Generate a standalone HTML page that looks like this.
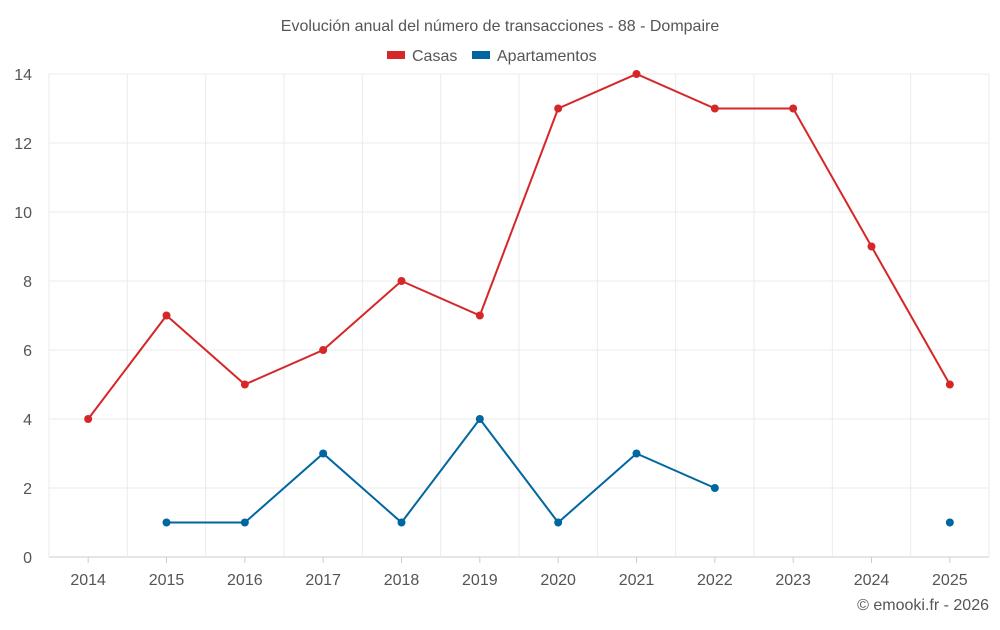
<!DOCTYPE html>
<html><head><meta charset="utf-8"><style>
body{margin:0;background:#fff;font-family:"Liberation Sans",sans-serif}
</style></head><body>
<svg id="c" width="1000" height="625" xmlns="http://www.w3.org/2000/svg"></svg>
<script>
const years=[2014,2015,2016,2017,2018,2019,2020,2021,2022,2023,2024,2025];
const casas=[4,7,5,6,8,7,13,14,13,13,9,5];
const apartamentos=[null,1,1,3,1,4,1,3,2,null,null,1];
const yTicks=[0,2,4,6,8,10,12,14];
const L=49,R=989,T=74,B=557,yMax=14;
const step=(R-L)/years.length;
const x=i=>L+step*(i+0.5);
const y=v=>B-(B-T)*v/yMax;
const svg=document.getElementById('c');
const NS='http://www.w3.org/2000/svg';
function mk(tag,attrs,parent){const e=document.createElementNS(NS,tag);for(const k in attrs)e.setAttribute(k,attrs[k]);(parent||svg).appendChild(e);return e;}
// grid
yTicks.forEach(t=>{
 const g=mk('line',{x1:L,x2:R,y1:y(t),y2:y(t),stroke:t===0?'#ccc':'#ebebeb','stroke-width':1});
 
 
 const tx=mk('text',{x:32,y:y(t)+6,'text-anchor':'end','font-size':16,fill:'#555'});
 tx.textContent=t;
 
 
});
for(let i=0;i<=years.length;i++){
 const g=mk('line',{x1:L+step*i,x2:L+step*i,y1:T,y2:B,stroke:'#ebebeb','stroke-width':1});
 
 
}
years.forEach((yr,i)=>{
 const tk=mk('line',{x1:x(i),x2:x(i),y1:B,y2:B+6,stroke:'#ccc'});
 
 
 const tx=mk('text',{x:x(i),y:585,'text-anchor':'middle','font-size':16,fill:'#555'});
 tx.textContent=yr;
 
 
});
function series(vals,color,name){
 let d='',pen=false;
 vals.forEach((v,i)=>{if(v==null){pen=false;return;}d+=(pen?'L':'M')+x(i)+' '+y(v)+' ';pen=true;});
 const p=mk('path',{d:d,fill:'none',stroke:color,'stroke-width':2});
 
 
 vals.forEach((v,i)=>{if(v==null)return;
  const c=mk('circle',{cx:x(i),cy:y(v),r:4,fill:color});
  
  
 });
}
series(casas,'#d62728','casas');
series(apartamentos,'#0066a0','apartamentos');
const title=mk('text',{x:500,y:31,'text-anchor':'middle','font-size':16,fill:'#555'});
title.textContent='Evolución anual del número de transacciones - 88 - Dompaire';


const l1=mk('rect',{x:387,y:51,width:18,height:8,fill:'#d62728'});


const t1=mk('text',{x:412,y:61,'font-size':16,fill:'#555'});t1.textContent='Casas';


const l2=mk('rect',{x:472,y:51,width:18,height:8,fill:'#0066a0'});


const t2=mk('text',{x:497,y:61,'font-size':16,fill:'#555'});t2.textContent='Apartamentos';


const cr=mk('text',{x:989,y:610,'text-anchor':'end','font-size':16,fill:'#555'});cr.textContent='© emooki.fr - 2026';


</script>
</body></html>
